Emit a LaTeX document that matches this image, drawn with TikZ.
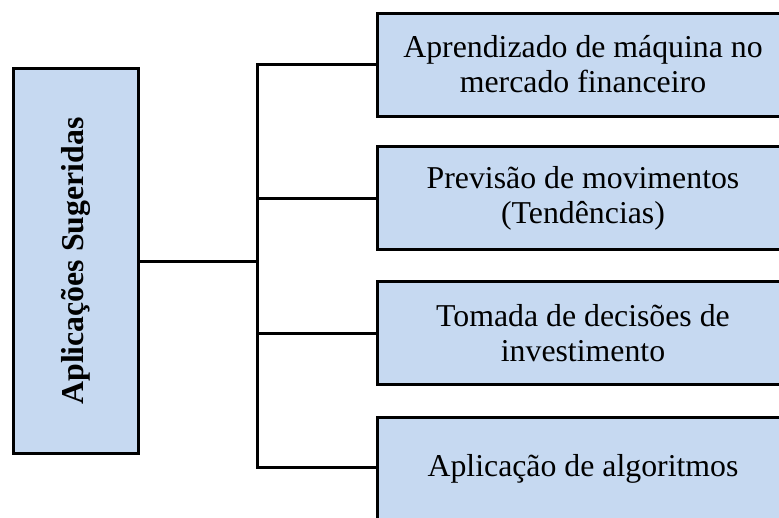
\documentclass[tikz,border=0pt]{standalone}
\usepackage{fontspec}
\usepackage{graphicx}
\setmainfont{Liberation Serif}
\definecolor{boxfill}{HTML}{C6D9F1}
\tikzset{
  box/.style={draw=black, fill=boxfill, line width=3pt, inner sep=0pt, align=center,
    font=\fontsize{31.8}{35}\selectfont},
  rbox/.style={box, minimum width=430pt, minimum height=103pt},
  lbl/.style={align=center, font=\fontsize{31.8}{35}\selectfont},
  conn/.style={draw=black, line width=3pt, line join=miter}
}
\begin{document}
\begin{tikzpicture}[x=1pt, y=-1pt]
\clip (0,0) rectangle (779,517);
\fill[white] (0,0) rectangle (779,517);
\node[box, minimum width=125pt, minimum height=385pt] (L) at (76,261)
  {\rotatebox{90}{\bfseries Aplicações Sugeridas}};
\node[rbox, anchor=west] (b1) at (375.5,64.5) {};
\node[rbox, anchor=west] (b2) at (375.5,198) {};
\node[rbox, anchor=west] (b3) at (375.5,333) {};
\node[rbox, anchor=north west, minimum height=125pt] (b4) at (375.5,415.5) {};
\node[lbl] (t1) at (583,64.5) {Aprendizado de máquina no\\mercado financeiro};
\node[lbl] (t2) at (583,198) {Previsão de movimentos\\(Tendências)};
\node[lbl] (t3) at (583,333) {Tomada de decisões de\\investimento};
\node[lbl] (t4) at (583,469) {Aplicação de algoritmos};
\coordinate (j) at (257,261);
\draw[conn] (L.east) -- (j);
\draw[conn] (b1.west) -- (b1.west -| j) |- ([yshift=-51.5pt]b4.north west);
\draw[conn] (b2.west -| j) -- (b2.west);
\draw[conn] (b3.west -| j) -- (b3.west);
\end{tikzpicture}
\end{document}
